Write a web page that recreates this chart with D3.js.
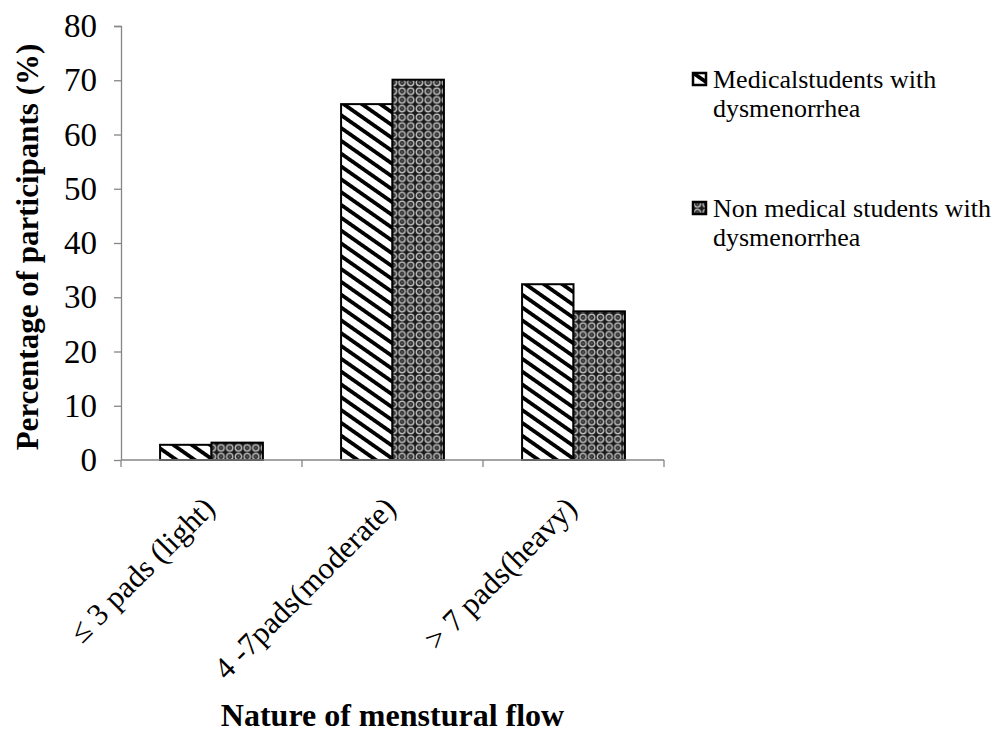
<!DOCTYPE html>
<html>
<head>
<meta charset="utf-8">
<script src="https://cdn.jsdelivr.net/npm/d3@7"></script>
<style>
  html, body { margin: 0; padding: 0; background: #fff; }
  svg { display: block; }
  svg text { font-family: "Liberation Serif", "Times New Roman", "DejaVu Serif", serif !important; }
</style>
</head>
<body>
<svg id="chart" width="1000" height="735"></svg>
<script>
// Nature of menstrual flow among students with dysmenorrhea (%)
const categories = ["\u2264 3 pads (light)", "4 -7pads(moderate)", "> 7 pads(heavy)"];
const seriesNames = ["Medicalstudents with dysmenorrhea", "Non medical students with dysmenorrhea"];
const medicalValues = [2.8, 65.6, 32.4];
const nonMedicalValues = [3.2, 70.1, 27.4];
const yTicks = [0, 10, 20, 30, 40, 50, 60, 70, 80];

const SERIF = "Liberation Serif, Times New Roman, serif";
const svg = d3.select("#chart");
const margin = { left: 121, right: 336, top: 26, bottom: 275 };
const W = 1000, H = 735;
const plotW = W - margin.left - margin.right;
const plotH = H - margin.top - margin.bottom;

// Fill patterns
const defs = svg.append("defs");

// diagonal stripes for medical students
const stripe = defs.append("pattern")
  .attr("id", "stripes")
  .attr("patternUnits", "userSpaceOnUse")
  .attr("width", 10.5).attr("height", 10)
  .attr("patternTransform", "rotate(-55)");
stripe.append("rect").attr("width", 10.5).attr("height", 10).attr("fill", "#fff");
stripe.append("rect").attr("x", 0).attr("y", 0).attr("width", 3.8).attr("height", 10).attr("fill", "#000");

// dotted ring grid for non-medical students
const s = 8.7;
const dots = defs.append("pattern")
  .attr("id", "rings")
  .attr("patternUnits", "userSpaceOnUse")
  .attr("width", s).attr("height", s);
dots.append("rect").attr("width", s).attr("height", s).attr("fill", "#1a1a1a");
dots.append("circle").attr("cx", s / 2).attr("cy", s / 2).attr("r", 3.1)
  .attr("fill", "none").attr("stroke", "#c0c0c0").attr("stroke-width", 1.4);
dots.append("circle").attr("cx", s / 2).attr("cy", s / 2).attr("r", 1.1).attr("fill", "#6a6a6a");

const fills = ["url(#stripes)", "url(#rings)"];

const x0 = d3.scaleBand().domain(categories).range([0, plotW]).paddingInner(0).paddingOuter(0);
const x1 = d3.scaleBand().domain([0, 1]).range([0, x0.bandwidth()]).paddingInner(0).paddingOuter(0.76);
const y = d3.scaleLinear().domain([0, 80]).range([plotH, 0]);

const g = svg.append("g").attr("transform", `translate(${margin.left},${margin.top})`);

// bars
const rows = categories.map((c, i) => ({ cat: c, vals: [medicalValues[i], nonMedicalValues[i]] }));
const grp = g.selectAll("g.cat").data(rows).enter().append("g")
  .attr("class", "cat")
  .attr("transform", d => `translate(${x0(d.cat)},0)`);
grp.selectAll("rect").data(d => d.vals.map((v, k) => ({ v, k }))).enter().append("rect")
  .attr("x", d => x1(d.k))
  .attr("y", d => y(d.v))
  .attr("width", x1.bandwidth())
  .attr("height", d => plotH - y(d.v))
  .attr("fill", d => fills[d.k])
  .attr("stroke", "#000")
  .attr("stroke-width", 2);

// y axis
const yAxis = g.append("g").call(d3.axisLeft(y).tickValues(yTicks).tickSize(7).tickPadding(17).tickFormat(d3.format("d")));
yAxis.attr("font-family", SERIF);
yAxis.select(".domain").attr("stroke", "#868686").attr("stroke-width", 1.3).attr("d", `M-7,0.5H0.5V${plotH}`);
yAxis.selectAll(".tick line").attr("stroke", "#868686").attr("stroke-width", 1.3);
yAxis.selectAll(".tick text").attr("font-size", 33).attr("fill", "#000").attr("font-family", SERIF);

// x axis with ticks at category boundaries
const xAxisG = g.append("g").attr("transform", `translate(0,${plotH})`);
xAxisG.append("line").attr("x1", 0).attr("x2", plotW).attr("y1", 0).attr("y2", 0)
  .attr("stroke", "#868686").attr("stroke-width", 1.3);
const boundaries = categories.map(c => x0(c)).concat([plotW]);
xAxisG.selectAll("line.tk").data(boundaries).enter().append("line")
  .attr("class", "tk")
  .attr("x1", d => d).attr("x2", d => d).attr("y1", 0).attr("y2", 7)
  .attr("stroke", "#868686").attr("stroke-width", 1.3);
xAxisG.selectAll("text.cat").data(categories).enter().append("text")
  .attr("class", "cat")
  .attr("transform", c => `translate(${x0(c) + x0.bandwidth() / 2 + 5},${50}) rotate(-45)`)
  .attr("text-anchor", "end")
  .attr("font-family", SERIF)
  .attr("font-size", 31)
  .text(c => c);

// axis titles
svg.append("text")
  .attr("transform", `translate(38,247) rotate(-90)`)
  .attr("text-anchor", "middle")
  .attr("font-family", SERIF)
  .attr("font-size", 31).attr("font-weight", "bold")
  .text("Percentage of participants (%)");
svg.append("text")
  .attr("x", margin.left + plotW / 2).attr("y", 726)
  .attr("text-anchor", "middle")
  .attr("font-family", SERIF)
  .attr("font-size", 32).attr("font-weight", "bold")
  .text("Nature of menstural flow");

// legend
const legendLines = [["Medicalstudents with", "dysmenorrhea"], ["Non medical students with", "dysmenorrhea"]];
const legend = svg.append("g").attr("transform", "translate(693,0)");
const li = legend.selectAll("g").data(seriesNames).enter().append("g")
  .attr("transform", (d, i) => `translate(0,${[88, 217][i]})`);
li.append("rect").attr("x", 0).attr("y", -15).attr("width", 13).attr("height", 12)
  .attr("fill", (d, i) => fills[i]).attr("stroke", "#000").attr("stroke-width", 2.5);
li.append("text").attr("x", 20).attr("y", 0).attr("font-size", 26)
  .attr("font-family", SERIF)
  .selectAll("tspan").data((d, i) => legendLines[i]).enter().append("tspan")
  .attr("x", 20).attr("dy", (d, j) => j === 0 ? 0 : 28.5)
  .text(d => d);
</script>
</body>
</html>
